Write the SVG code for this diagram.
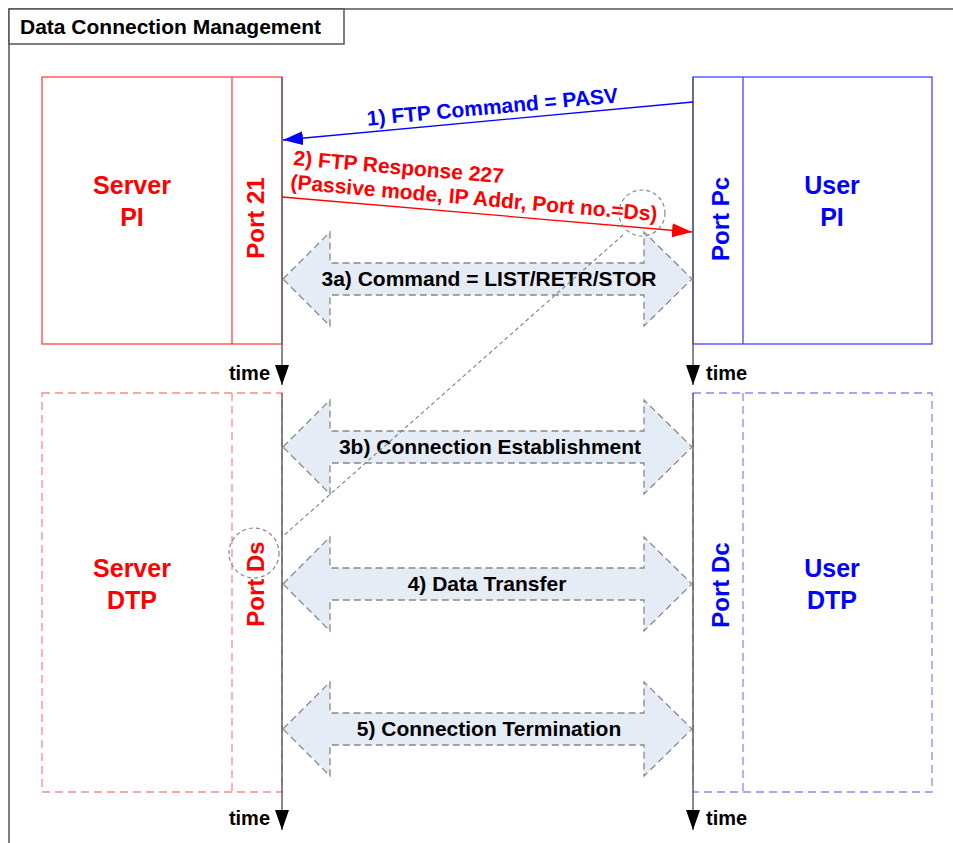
<svg xmlns="http://www.w3.org/2000/svg" width="953" height="843" viewBox="0 0 953 843">
<style>
text{font-family:"Liberation Sans",Arial,sans-serif;font-weight:bold}
.big{font-size:25px}
.port{font-size:24px}
.lbl{font-size:21px;fill:#000}
.red{fill:#ff0000}
.blue{fill:#0000ff}
.time{font-size:20px;fill:#000}
.blk{fill:#e6ecf6;stroke:#888;stroke-width:1.3;stroke-dasharray:7 4}
.circ{fill:none;stroke:#888;stroke-width:1.2;stroke-dasharray:4 3}
</style>
<defs>
<marker id="tri" markerWidth="14" markerHeight="20" refX="7" refY="20" orient="0" markerUnits="userSpaceOnUse">
<path d="M0,0 L14,0 L7,20 Z" fill="#000"/>
</marker>
<marker id="ab" markerWidth="20" markerHeight="14" refX="20" refY="7" orient="auto" markerUnits="userSpaceOnUse">
<path d="M0,0 L20,7 L0,14 Z" fill="#0000ff"/>
</marker>
<marker id="ar" markerWidth="20" markerHeight="14" refX="20" refY="7" orient="auto" markerUnits="userSpaceOnUse">
<path d="M0,0 L20,7 L0,14 Z" fill="#ff0000"/>
</marker>
</defs>
<rect width="953" height="843" fill="#fff"/>
<g id="frame">
<rect x="9" y="9" width="960" height="860" fill="none" stroke="#555" stroke-width="1.5"/>
<rect x="9" y="9" width="335" height="35" fill="#fff" stroke="#555" stroke-width="1.5"/>
<text x="20" y="34" font-size="21" fill="#000">Data Connection Management</text>
</g>
<g id="serverPI">
<rect x="42" y="77" width="240" height="267" fill="none" stroke="#ff4444" stroke-width="1.3"/>
<line x1="232" y1="77" x2="232" y2="344" stroke="#ff4444" stroke-width="1.3"/>
<text class="big red" x="132" y="194" text-anchor="middle">Server</text>
<text class="big red" x="132" y="226" text-anchor="middle">PI</text>
<text class="port red" transform="translate(264,218) rotate(-90)" text-anchor="middle">Port 21</text>
</g>
<g id="userPI">
<rect x="693" y="77" width="239" height="267" fill="none" stroke="#4444ff" stroke-width="1.3"/>
<line x1="743" y1="77" x2="743" y2="344" stroke="#4444ff" stroke-width="1.3"/>
<text class="big blue" x="832" y="194" text-anchor="middle">User</text>
<text class="big blue" x="832" y="226" text-anchor="middle">PI</text>
<text class="port blue" transform="translate(729,219) rotate(-90)" text-anchor="middle">Port Pc</text>
</g>
<g id="serverDTP">
<rect x="42" y="393" width="240" height="399" fill="none" stroke="#ff8888" stroke-width="1.3" stroke-dasharray="8 5"/>
<line x1="232" y1="393" x2="232" y2="792" stroke="#ff8888" stroke-width="1.3" stroke-dasharray="8 5"/>
<text class="big red" x="132" y="577" text-anchor="middle">Server</text>
<text class="big red" x="132" y="609" text-anchor="middle">DTP</text>
<text class="port red" transform="translate(264,584) rotate(-90)" text-anchor="middle">Port Ds</text>
</g>
<g id="userDTP">
<rect x="693" y="393" width="239" height="399" fill="none" stroke="#8888ff" stroke-width="1.3" stroke-dasharray="8 5"/>
<line x1="743" y1="393" x2="743" y2="792" stroke="#8888ff" stroke-width="1.3" stroke-dasharray="8 5"/>
<text class="big blue" x="832" y="577" text-anchor="middle">User</text>
<text class="big blue" x="832" y="609" text-anchor="middle">DTP</text>
<text class="port blue" transform="translate(729,585) rotate(-90)" text-anchor="middle">Port Dc</text>
</g>
<g id="connectors">
<line x1="282" y1="77" x2="282" y2="385" stroke="#606060" stroke-width="1.5" marker-end="url(#tri)"/>
<line x1="693" y1="77" x2="693" y2="385" stroke="#606060" stroke-width="1.5" marker-end="url(#tri)"/>
<line x1="282" y1="393" x2="282" y2="830" stroke="#606060" stroke-width="1.5" marker-end="url(#tri)"/>
<line x1="693" y1="393" x2="693" y2="830" stroke="#606060" stroke-width="1.5" marker-end="url(#tri)"/>
<text class="time" x="270" y="380" text-anchor="end">time</text>
<text class="time" x="706" y="380">time</text>
<text class="time" x="270" y="825" text-anchor="end">time</text>
<text class="time" x="706" y="825">time</text>

<line x1="693" y1="102" x2="283" y2="140" stroke="#0000ff" stroke-width="1.3" marker-end="url(#ab)"/>
<text class="blue" font-size="21" transform="translate(493,114) rotate(-5.3)" text-anchor="middle">1) FTP Command = PASV</text>
<line x1="282" y1="197" x2="692" y2="232" stroke="#ff0000" stroke-width="1.3" marker-end="url(#ar)"/>
<text class="red" font-size="21" transform="translate(293,165) rotate(5)">2) FTP Response 227</text>
<text class="red" font-size="21" transform="translate(290,189) rotate(5)">(Passive mode, IP Addr, Port no.=Ds)</text>

<path class="blk" d="M283,279 L330,232 L330,263 L644,263 L644,232 L692,279 L644,326 L644,295 L330,295 L330,326 Z"/>
<text class="lbl" x="489" y="286" text-anchor="middle">3a) Command = LIST/RETR/STOR</text>
<path class="blk" d="M283,447 L330,400 L330,431 L644,431 L644,400 L692,447 L644,494 L644,463 L330,463 L330,494 Z"/>
<text class="lbl" x="490" y="454" text-anchor="middle">3b) Connection Establishment</text>
<path class="blk" d="M283,584 L330,537 L330,568 L644,568 L644,537 L692,584 L644,631 L644,600 L330,600 L330,631 Z"/>
<text class="lbl" x="487" y="591" text-anchor="middle">4) Data Transfer</text>
<path class="blk" d="M283,729 L330,682 L330,713 L644,713 L644,682 L692,729 L644,776 L644,745 L330,745 L330,776 Z"/>
<text class="lbl" x="489" y="736" text-anchor="middle">5) Connection Termination</text>

<circle class="circ" cx="642" cy="213" r="23"/>
<circle class="circ" cx="254" cy="553" r="25"/>
<line x1="623" y1="235" x2="282" y2="537" stroke="#888" stroke-width="1.2" stroke-dasharray="4 3"/>
</g>
</svg>
